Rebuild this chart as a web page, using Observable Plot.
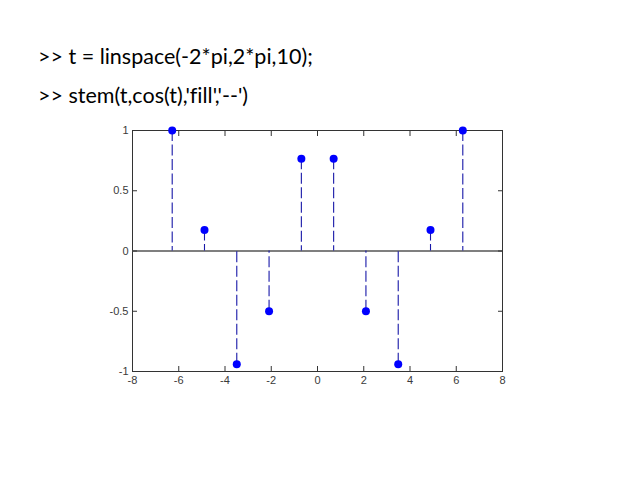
<!DOCTYPE html>
<html>
<head>
<meta charset="utf-8">
<script src="https://cdn.jsdelivr.net/npm/d3@7"></script>
<script src="https://cdn.jsdelivr.net/npm/@observablehq/plot@0.6"></script>
<style>
  html, body { margin: 0; padding: 0; background: #fff; }
  #wrap { position: relative; width: 638px; height: 479px; overflow: hidden; }
  .cmd { position: absolute; left: 38px; font-family: Lato, "Open Sans", sans-serif; font-size: 21.5px; color: #000; white-space: pre; line-height: 1; font-variant-ligatures: none; font-feature-settings: "liga" 0, "clig" 0; }
  #chart { position: absolute; left: 0; top: 0; }
</style>
</head>
<body>
<div id="wrap">
  <div class="cmd" id="l1" style="top:46px">&gt;&gt; t = linspace(-2*pi,2*pi,10);</div>
  <div class="cmd" id="l2" style="top:85px">&gt;&gt; stem(t,cos(t),'fill','--')</div>
  <div id="chart"></div>
</div>
<script>
const tValues = [-6.2832, -4.8869, -3.4907, -2.0944, -0.6981, 0.6981, 2.0944, 3.4907, 4.8869, 6.2832];
const yValues = [1.0000, 0.1736, -0.9397, -0.5000, 0.7660, 0.7660, -0.5000, -0.9397, 0.1736, 1.0000];
const xTicks = [-8, -6, -4, -2, 0, 2, 4, 6, 8];
const xTickLabels = ["-8", "-6", "-4", "-2", "0", "2", "4", "6", "8"];
const yTicks = [-1, -0.5, 0, 0.5, 1];
const yTickLabels = ["-1", "-0.5", "0", "0.5", "1"];

const data = tValues.map((t, i) => ({t, y: yValues[i]}));
const axisFontFamily = "Liberation Sans, Arial, sans-serif";

const chart = Plot.plot({
  width: 638,
  height: 479,
  marginLeft: 132,
  marginRight: 136,
  marginTop: 130,
  marginBottom: 108,
  style: {background: "transparent", fontFamily: axisFontFamily, fontSize: "11px", color: "#3a3a3a"},
  x: {domain: [-8, 8]},
  y: {domain: [-1, 1]},
  marks: [
    Plot.frame({stroke: "#333", strokeWidth: 1}),
    Plot.ruleY([0], {stroke: "#555", strokeWidth: 1.5}),
    Plot.ruleX(data, {x: "t", y1: "y", y2: 0, stroke: "#1818a8", strokeWidth: 1.1, strokeDasharray: "11,3.5"}),
    Plot.dot(data, {x: "t", y: "y", r: 4, fill: "#0000ff", stroke: "none"}),
    // tick labels
    Plot.axisX({ticks: xTicks, tickSize: 0, tickPadding: 5, label: null, anchor: "bottom", fill: "#3a3a3a", tickFormat: (d) => xTickLabels[xTicks.indexOf(d)]}),
    Plot.axisY({ticks: yTicks, tickSize: 0, tickPadding: 4, label: null, anchor: "left", tickFormat: (d) => yTickLabels[yTicks.indexOf(d)], fill: "#3a3a3a"}),
    // inward tick marks on all four sides
    Plot.axisX({ticks: xTicks, tickSize: -5, text: null, label: null, anchor: "bottom", stroke: "#333"}),
    Plot.axisX({ticks: xTicks, tickSize: -5, text: null, label: null, anchor: "top", stroke: "#333"}),
    Plot.axisY({ticks: yTicks, tickSize: -5, text: null, label: null, anchor: "left", stroke: "#333"}),
    Plot.axisY({ticks: yTicks, tickSize: -5, text: null, label: null, anchor: "right", stroke: "#333"})
  ]
});
document.getElementById("chart").appendChild(chart);
</script>
</body>
</html>
